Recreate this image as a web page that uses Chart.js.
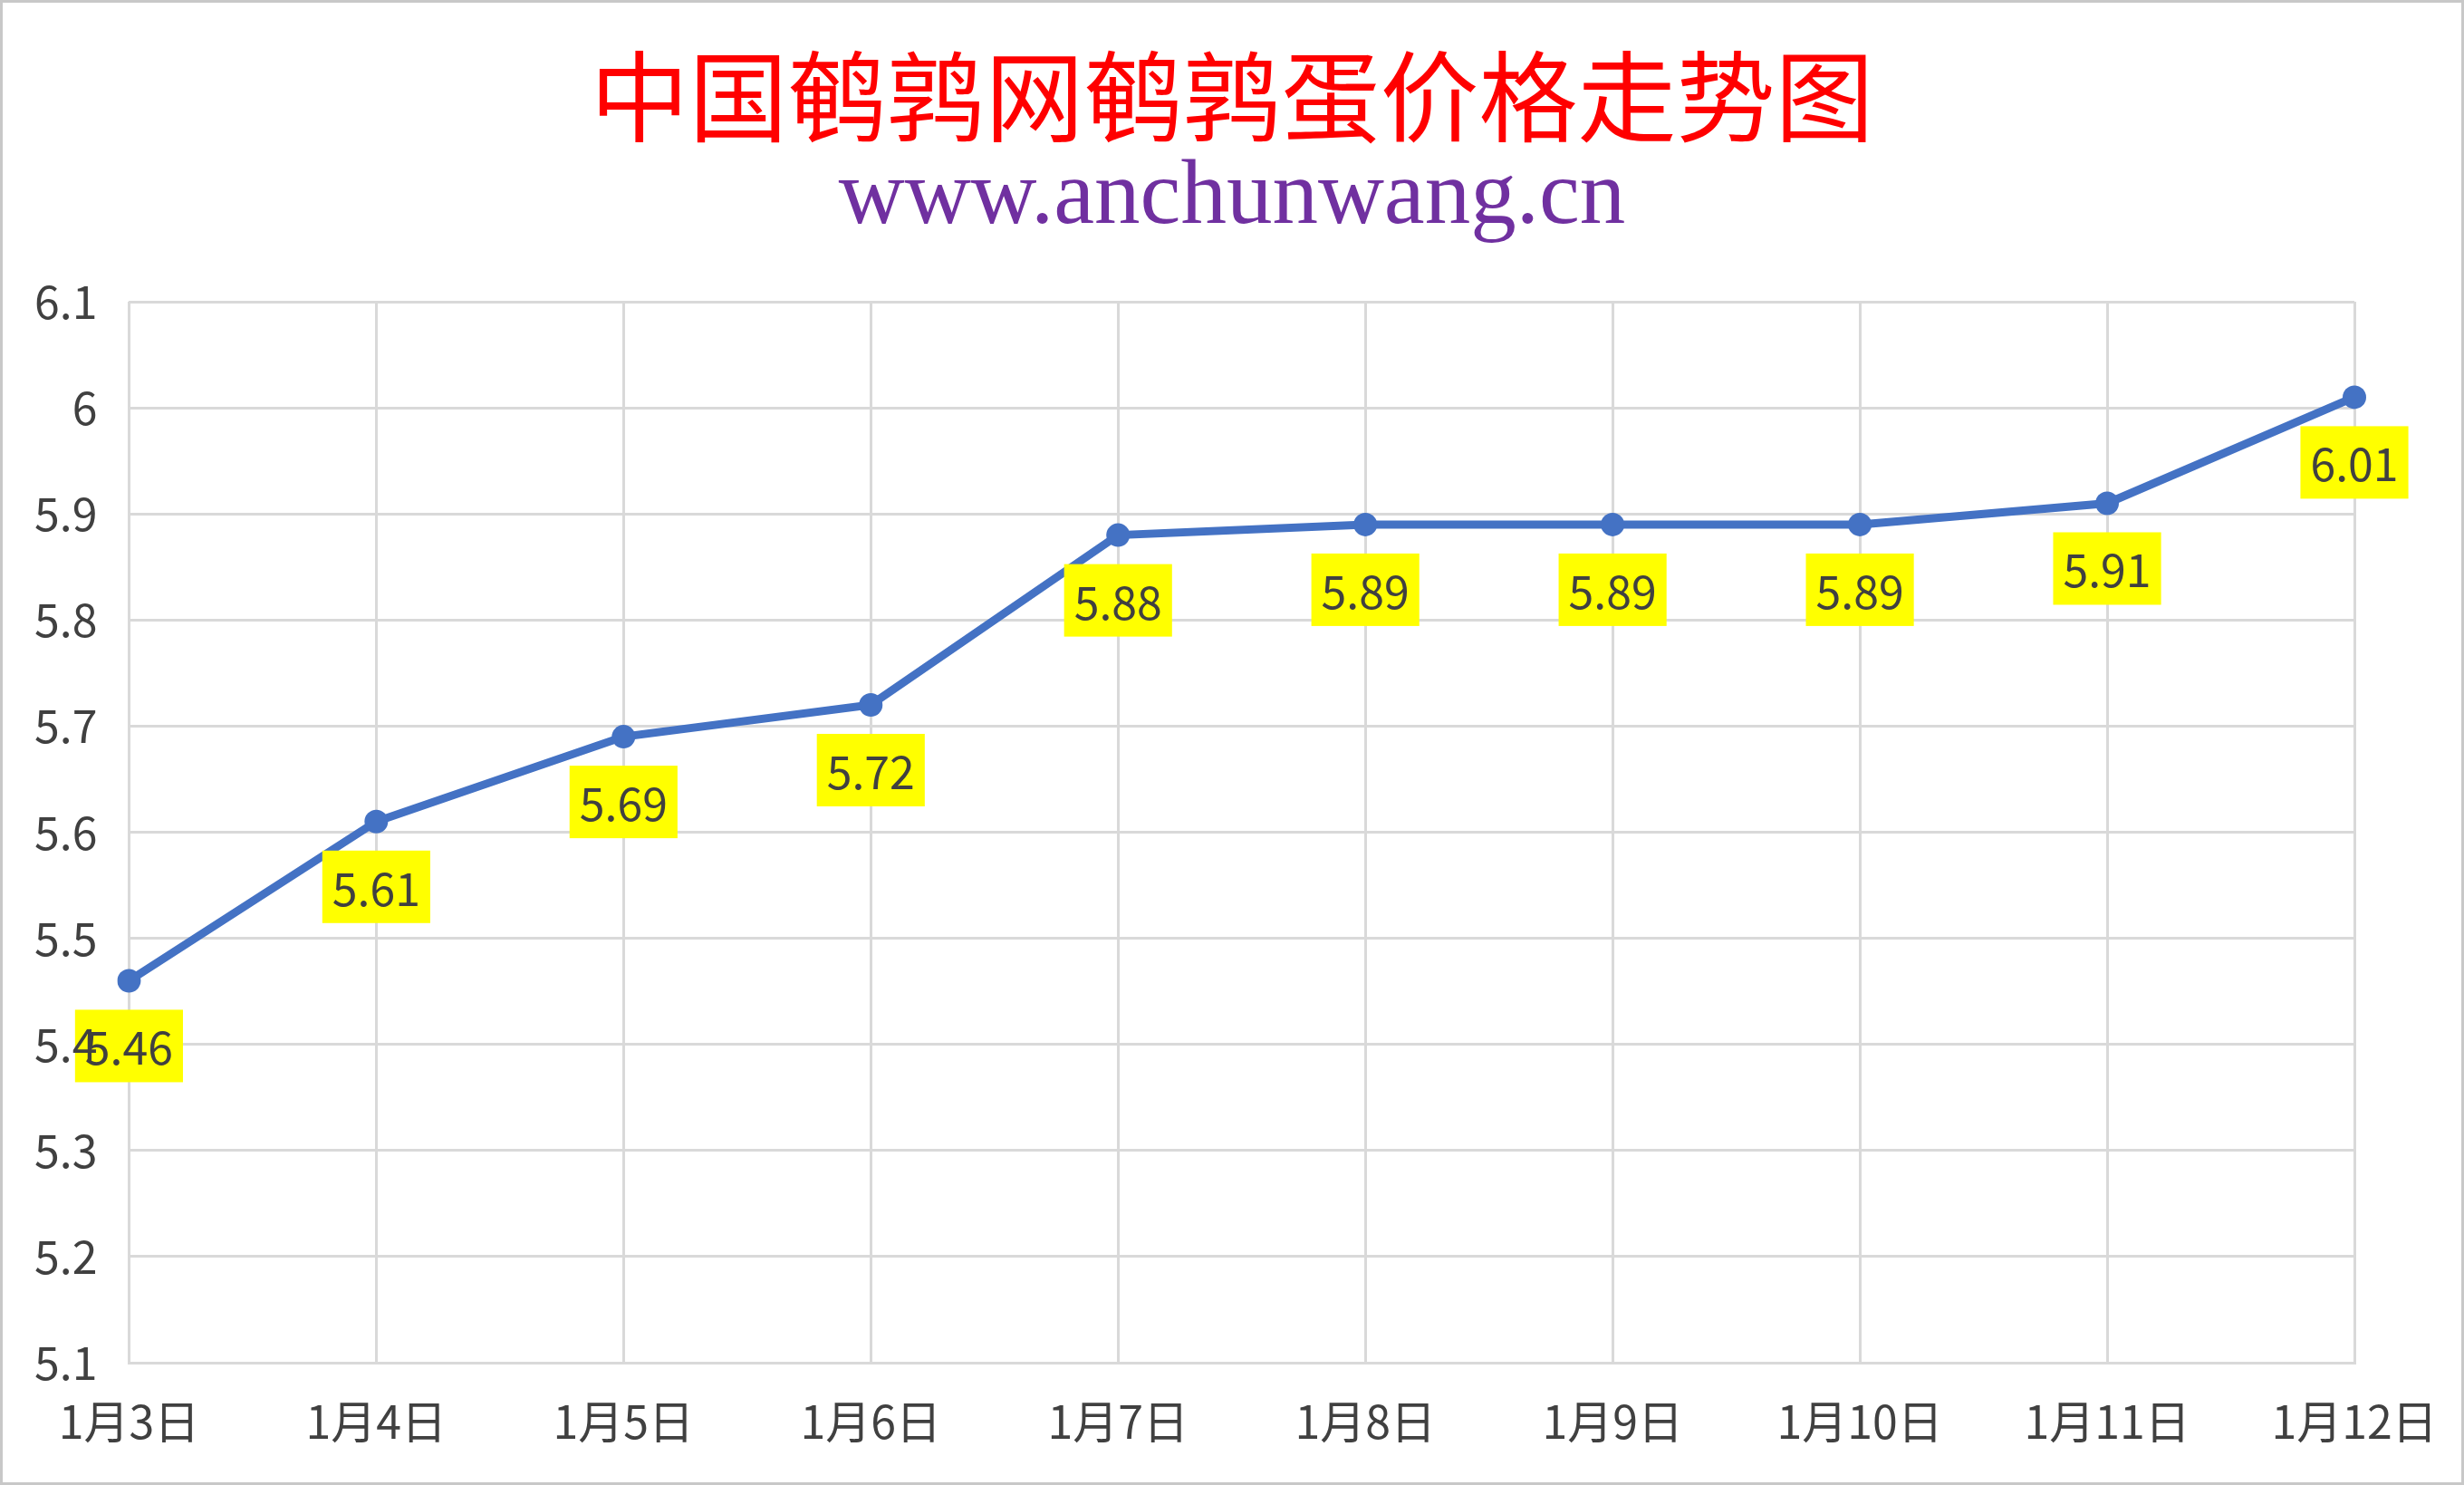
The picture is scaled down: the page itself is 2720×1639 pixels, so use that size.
<!DOCTYPE html>
<html>
<head>
<meta charset="utf-8">
<script src="https://cdn.jsdelivr.net/npm/chart.js@4.4.1/dist/chart.umd.min.js"></script>
<style>
  body { margin: 0; background: #fff; }
  #wrap { width: 2720px; height: 1639px; }
</style>
</head>
<body>
<div id="wrap"><canvas id="priceChart" width="2720" height="1639"></canvas></div>
<script>
// data
const dates = ['1月3日', '1月4日', '1月5日', '1月6日', '1月7日', '1月8日', '1月9日', '1月10日', '1月11日', '1月12日'];
const prices = [5.46, 5.61, 5.69, 5.72, 5.88, 5.89, 5.89, 5.89, 5.91, 6.01];
const yTicks = [5.1, 5.2, 5.3, 5.4, 5.5, 5.6, 5.7, 5.8, 5.9, 6.0, 6.1];

const labelFont = '"Noto Sans CJK SC", "Noto Sans", sans-serif';

// white background + thin frame round the whole picture
const frame = {
    id: 'frame',
    beforeDraw(chart) {
        const ctx = chart.ctx;
        ctx.save();
        ctx.fillStyle = '#ffffff';
        ctx.fillRect(0, 0, chart.width, chart.height);
        ctx.restore();
    },
    afterDraw(chart) {
        const ctx = chart.ctx;
        ctx.save();
        ctx.strokeStyle = '#c8c8c8';
        ctx.lineWidth = 3;
        ctx.strokeRect(1.5, 1.5, chart.width - 3, chart.height - 3);
        ctx.restore();
    }
};

// yellow value boxes under each point
const valueBoxes = {
    id: 'valueBoxes',
    afterDatasetsDraw(chart) {
        const ctx = chart.ctx;
        const meta = chart.getDatasetMeta(0);
        ctx.save();
        ctx.font = '50px ' + labelFont;
        ctx.textAlign = 'center';
        ctx.textBaseline = 'middle';
        meta.data.forEach((pt, i) => {
            const text = prices[i].toFixed(2);
            const w = ctx.measureText(text).width + 22;
            const h = 80;
            const cx = pt.x;
            const cy = pt.y + 72;
            ctx.fillStyle = '#ffff00';
            ctx.fillRect(cx - w / 2, cy - h / 2, w, h);
            ctx.fillStyle = '#404040';
            ctx.fillText(text, cx, cy + 2);
        });
        ctx.restore();
    }
};

new Chart(document.getElementById('priceChart'), {
    type: 'line',
    data: {
        labels: dates,
        datasets: [{
            label: '鹌鹑蛋价格',
            data: prices,
            borderColor: '#4472c4',
            backgroundColor: '#4472c4',
            borderWidth: 9,
            pointRadius: 13,
            pointHoverRadius: 13,
            pointBackgroundColor: '#4472c4',
            pointBorderWidth: 0,
            tension: 0
        }]
    },
    options: {
        responsive: false,
        devicePixelRatio: 1,
        animation: false,
        layout: { padding: { left: 3, right: 3, top: 0, bottom: 5 } },
        plugins: {
            legend: { display: false },
            tooltip: { enabled: false },
            title: {
                display: true,
                text: '中国鹌鹑网鹌鹑蛋价格走势图',
                color: '#ff0000',
                font: { family: '"Noto Sans CJK SC", sans-serif', size: 109, weight: 'normal', lineHeight: 1 },
                padding: { top: 52, bottom: 0 }
            },
            subtitle: {
                display: true,
                text: 'www.anchunwang.cn',
                color: '#7030a0',
                font: { family: '"Liberation Serif", "DejaVu Serif", serif', size: 101, lineHeight: 1 },
                padding: { top: 8, bottom: 63 }
            }
        },
        scales: {
            x: {
                offset: false,
                grid: { color: '#d9d9d9', lineWidth: 3, drawTicks: false },
                border: { color: '#d9d9d9', width: 3 },
                ticks: {
                    color: '#404040',
                    font: { family: labelFont, size: 50 },
                    padding: 35,
                    maxRotation: 0,
                    autoSkip: false
                },
                // end labels fit in the margins anyway
                afterFit(axis) { axis.paddingLeft = 0; axis.paddingRight = 0; }
            },
            y: {
                min: 5.1,
                max: 6.1,
                afterBuildTicks(axis) {
                    axis.ticks = yTicks.map(v => ({ value: v }));
                },
                grid: { color: '#d9d9d9', lineWidth: 3, drawTicks: false },
                border: { display: false },
                ticks: {
                    z: 1,
                    color: '#404040',
                    font: { family: labelFont, size: 50 },
                    padding: 35,
                    callback: (v) => String(parseFloat(Number(v).toFixed(1)))
                }
            },
            // empty right-hand margin so the titles stay centred on the page
            yRight: {
                position: 'right',
                grid: { display: false, drawTicks: false },
                border: { display: false },
                ticks: { display: false },
                afterFit(axis) { axis.width = 118; }
            }
        }
    },
    plugins: [frame, valueBoxes]
});
</script>
</body>
</html>
